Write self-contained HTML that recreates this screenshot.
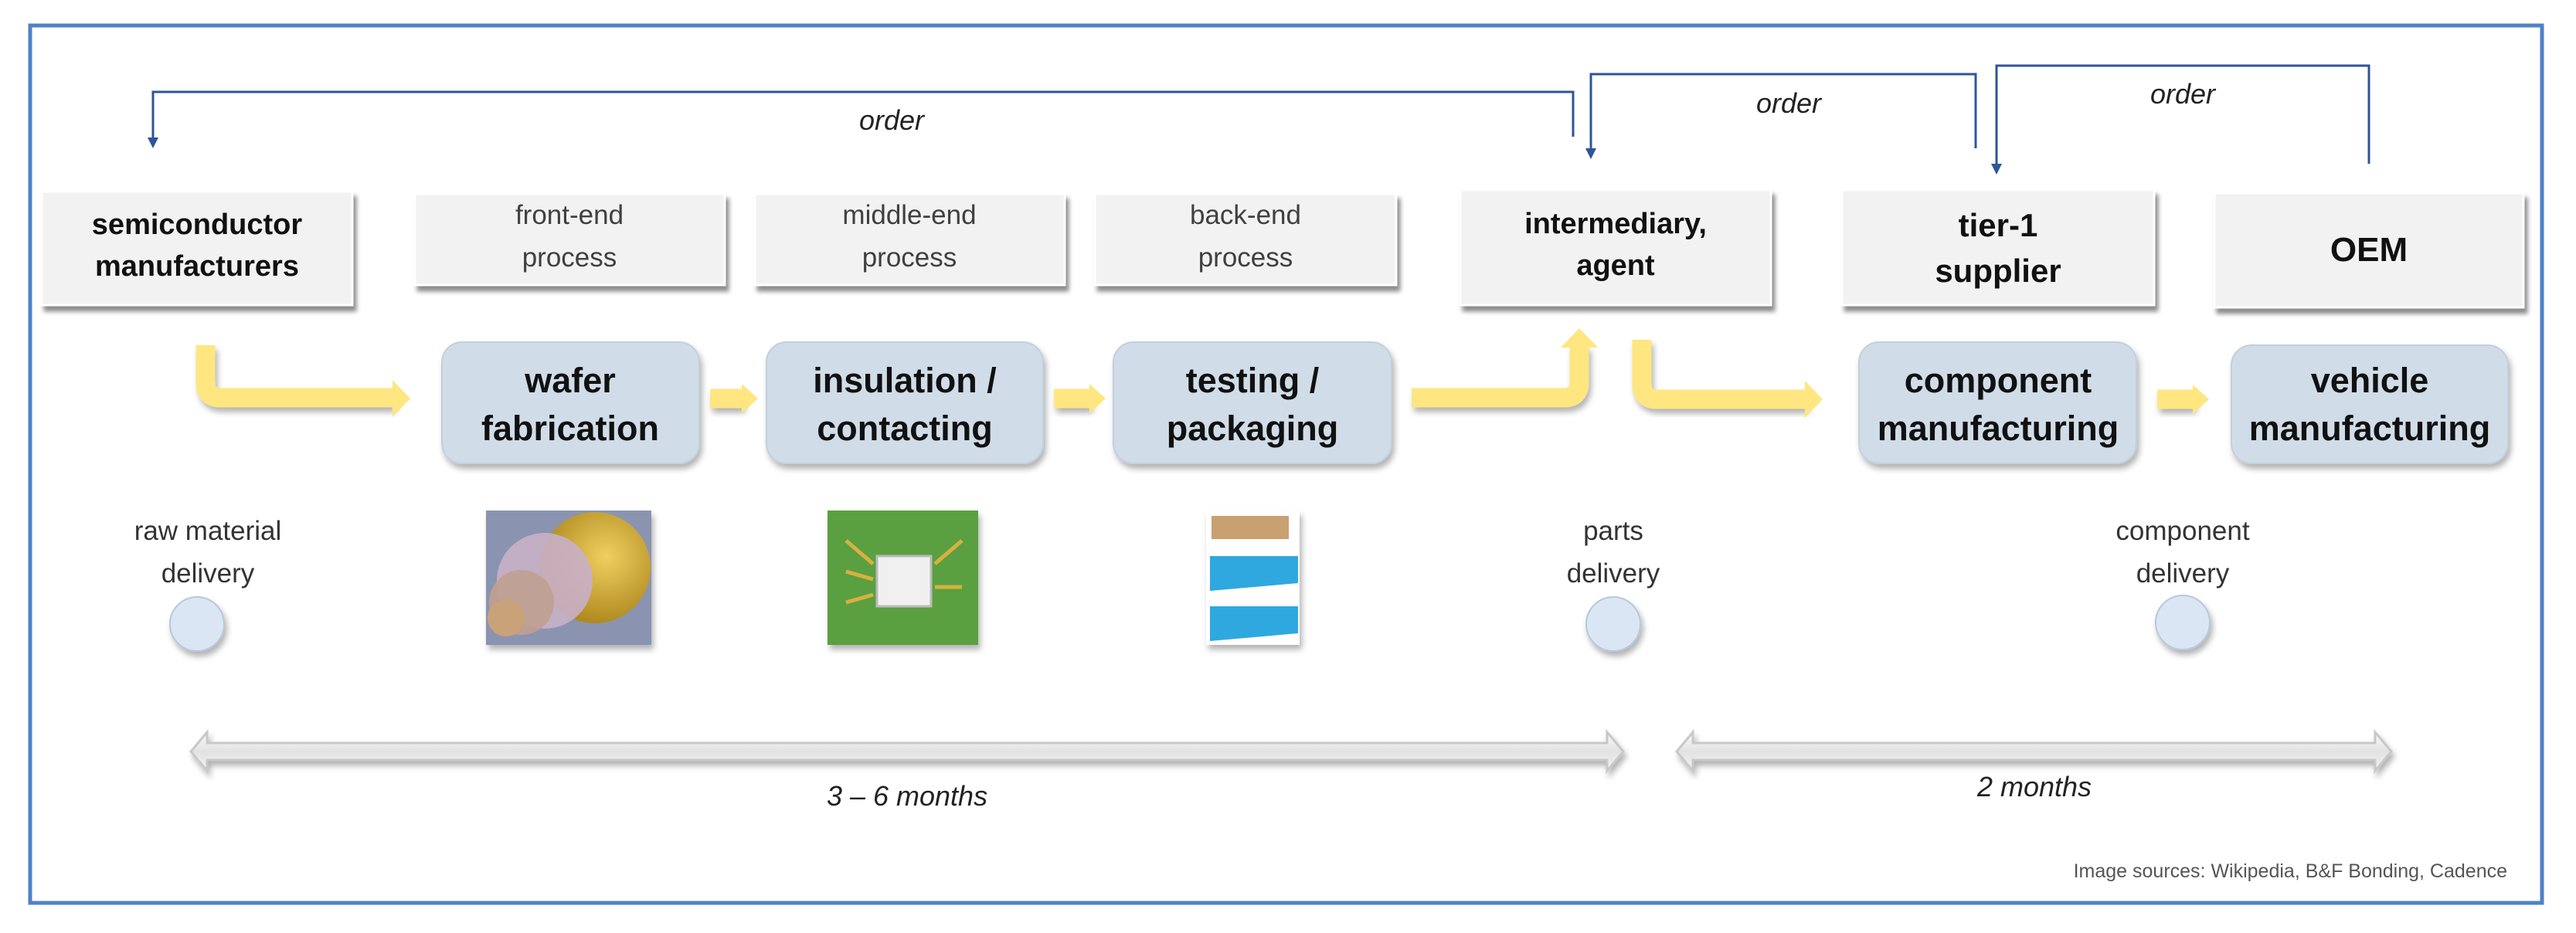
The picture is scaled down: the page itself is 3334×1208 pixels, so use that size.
<!DOCTYPE html>
<html><head><meta charset="utf-8"><style>
html,body{margin:0;padding:0;background:#fff;}
svg{display:block;}
text{font-family:"Liberation Sans",sans-serif;}
</style></head><body>
<svg width="3334" height="1208" viewBox="0 0 3334 1208" xmlns="http://www.w3.org/2000/svg">
<defs>
<filter id="sh" x="-10%" y="-10%" width="130%" height="140%"><feDropShadow dx="4" dy="7" stdDeviation="3" flood-color="#000" flood-opacity="0.45"/></filter>
<filter id="sh2" x="-10%" y="-10%" width="130%" height="140%"><feDropShadow dx="3" dy="6" stdDeviation="4" flood-color="#000" flood-opacity="0.3"/></filter>
<linearGradient id="dg" x1="0" y1="0" x2="0" y2="1"><stop offset="0" stop-color="#fafafa"/><stop offset="0.5" stop-color="#e2e2e2"/><stop offset="1" stop-color="#f4f4f4"/></linearGradient>
<radialGradient id="wf" cx="0.6" cy="0.4" r="0.6"><stop offset="0" stop-color="#f0d060"/><stop offset="1" stop-color="#b08a20"/></radialGradient>
</defs>
<rect x="39" y="33" width="3251" height="1136" fill="#fff" stroke="#4f81c7" stroke-width="5"/>

<!-- order lines -->
<g stroke="#2f5597" stroke-width="3" fill="none">
<polyline points="2036,177 2036,119 198,119 198,180"/>
<polyline points="2557,192 2557,96 2059,96 2059,195"/>
<polyline points="3066,212 3066,85 2584,85 2584,214"/>
</g>
<g fill="#2f5597">
<polygon points="191,178 205,178 198,192"/>
<polygon points="2052,192 2066,192 2059,206"/>
<polygon points="2577,212 2591,212 2584,226"/>
</g>
<g font-style="italic" font-size="36" fill="#222" text-anchor="middle">
<text x="1154" y="168">order</text>
<text x="2315" y="146">order</text>
<text x="2825" y="134">order</text>
</g>

<!-- gray boxes -->
<g fill="#f2f2f2" stroke="#fff" stroke-width="3" filter="url(#sh)">
<rect x="54" y="248" width="402" height="147"/>
<rect x="537" y="251" width="401" height="118"/>
<rect x="977" y="251" width="401" height="118"/>
<rect x="1417" y="251" width="390" height="118"/>
<rect x="1890" y="246" width="402" height="149"/>
<rect x="2384" y="246" width="404" height="149"/>
<rect x="2866" y="250" width="400" height="148"/>
</g>
<g font-size="38" font-weight="bold" fill="#111" text-anchor="middle">
<text x="255" y="303">semiconductor</text><text x="255" y="357">manufacturers</text>
<text x="2091" y="302">intermediary,</text><text x="2091" y="356">agent</text>
<text x="2586" y="306" font-size="42">tier-1</text><text x="2586" y="365" font-size="42">supplier</text>
<text x="3066" y="338" font-size="44">OEM</text>
</g>
<g font-size="35" fill="#404040" text-anchor="middle">
<text x="737" y="290">front-end</text><text x="737" y="345">process</text>
<text x="1177" y="290">middle-end</text><text x="1177" y="345">process</text>
<text x="1612" y="290">back-end</text><text x="1612" y="345">process</text>
</g>

<!-- blue boxes -->
<g fill="#d0dde8" stroke="#c2d0dc" stroke-width="2" filter="url(#sh2)">
<rect x="572" y="443" width="333" height="157" rx="26"/>
<rect x="992" y="443" width="358" height="157" rx="26"/>
<rect x="1441" y="443" width="360" height="157" rx="26"/>
<rect x="2406" y="443" width="359" height="157" rx="26"/>
<rect x="2888" y="447" width="358" height="153" rx="26"/>
</g>
<g font-size="45" font-weight="bold" fill="#111" text-anchor="middle">
<text x="738" y="508">wafer</text><text x="738" y="570">fabrication</text>
<text x="1171" y="508">insulation /</text><text x="1171" y="570">contacting</text>
<text x="1621" y="508">testing /</text><text x="1621" y="570">packaging</text>
<text x="2586" y="508">component</text><text x="2586" y="570">manufacturing</text>
<text x="3067" y="508">vehicle</text><text x="3067" y="570">manufacturing</text>
</g>

<!-- yellow arrows -->
<g fill="none" stroke="#ffe680" stroke-width="25" filter="url(#sh2)">
<path d="M266,447 V495 Q266,515 286,515 H510"/>
<path d="M919,516 H962"/>
<path d="M1364,516 H1412"/>
<path d="M1827,515 H2024 Q2044,515 2044,495 V448"/>
<path d="M2125,440 V497 Q2125,517 2145,517 H2338"/>
<path d="M2792,517 H2840"/>
</g>
<g fill="#ffe680">
<polygon points="508,492 531,516 508,540"/>
<polygon points="960,497 981,516 960,535"/>
<polygon points="1410,497 1431,516 1410,535"/>
<polygon points="2020,450 2044,425 2068,450"/>
<polygon points="2336,493 2359,517 2336,541"/>
<polygon points="2838,498 2859,517 2838,536"/>
</g>

<!-- images -->
<rect x="629" y="661" width="214" height="174" fill="#8a94b0" filter="url(#sh2)"/>
<circle cx="770" cy="735" r="72" fill="url(#wf)"/>
<circle cx="705" cy="752" r="62" fill="#c8b0c8" opacity="0.9"/>
<circle cx="675" cy="780" r="42" fill="#c0a090" opacity="0.9"/>
<circle cx="655" cy="800" r="24" fill="#c9a27a"/>
<rect x="1071" y="661" width="195" height="174" fill="#5aa040" filter="url(#sh2)"/>
<rect x="1135" y="720" width="70" height="65" fill="#f0f0f0" stroke="#bbb" stroke-width="3"/>
<g stroke="#d8b040" stroke-width="5"><line x1="1095" y1="700" x2="1130" y2="730"/><line x1="1095" y1="740" x2="1130" y2="750"/><line x1="1095" y1="780" x2="1130" y2="770"/><line x1="1245" y1="700" x2="1210" y2="730"/><line x1="1245" y1="760" x2="1210" y2="760"/></g>
<rect x="1561" y="661" width="121" height="174" fill="#fff" filter="url(#sh2)"/>
<rect x="1568" y="668" width="100" height="30" fill="#c9a070"/>
<polygon points="1566,720 1680,720 1680,755 1566,765" fill="#2fa8e0"/>
<polygon points="1566,785 1680,785 1680,820 1566,830" fill="#2fa8e0"/>

<!-- delivery -->
<g font-size="35" fill="#333" text-anchor="middle">
<text x="269" y="699">raw material</text><text x="269" y="754">delivery</text>
<text x="2088" y="699">parts</text><text x="2088" y="754">delivery</text>
<text x="2825" y="699">component</text><text x="2825" y="754">delivery</text>
</g>
<g fill="#dbe6f4" stroke="#b8c8dc" stroke-width="2" filter="url(#sh2)">
<circle cx="255" cy="808" r="35"/>
<circle cx="2088" cy="808" r="35"/>
<circle cx="2825" cy="806" r="35"/>
</g>

<!-- double arrows -->
<g fill="url(#dg)" stroke="#c8c8c8" stroke-width="3" filter="url(#sh2)">
<polygon points="247,973 268,948 268,962 2080,962 2080,948 2101,973 2080,998 2080,984 268,984 268,998"/>
<polygon points="2170,973 2191,948 2191,962 3074,962 3074,948 3095,973 3074,998 3074,984 2191,984 2191,998"/>
</g>
<g font-size="36" font-style="italic" fill="#222" text-anchor="middle">
<text x="1174" y="1043">3 – 6 months</text>
<text x="2633" y="1031">2 months</text>
</g>
<text x="3245" y="1136" font-size="25" fill="#555" text-anchor="end">Image sources: Wikipedia, B&amp;F Bonding, Cadence</text>
</svg>
</body></html>
